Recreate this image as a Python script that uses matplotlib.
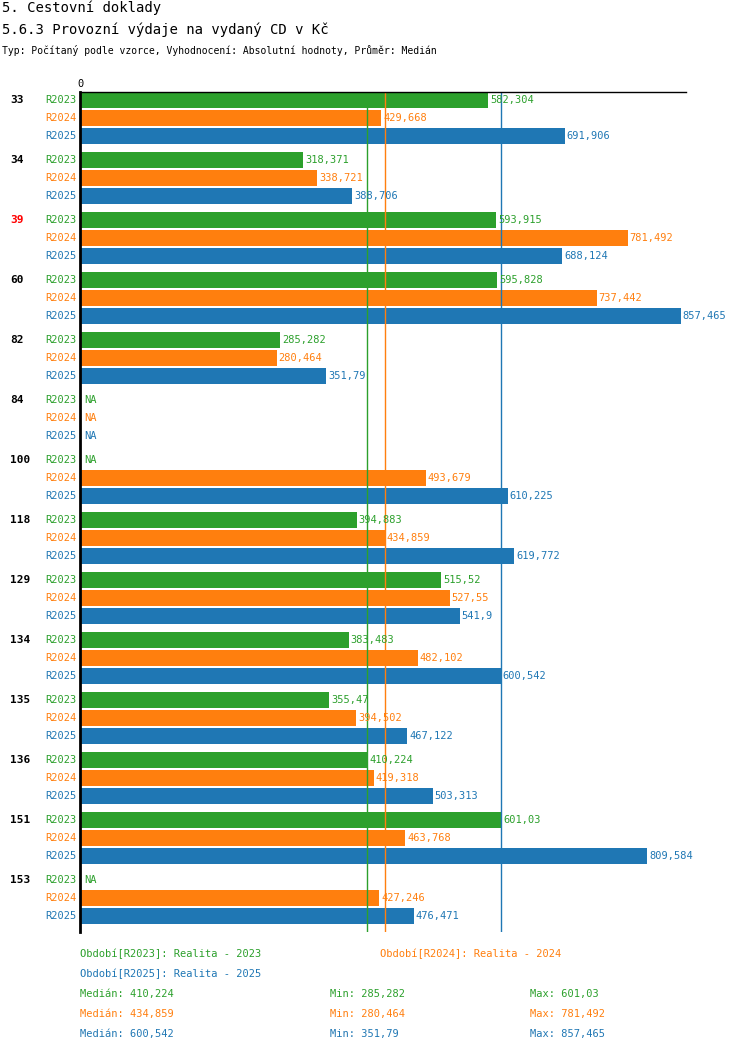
import matplotlib
matplotlib.use("Agg")
import matplotlib.pyplot as plt

plt.rcParams['font.family'] = ['DejaVu Sans Mono']

groups = ['33', '34', '39', '60', '82', '84', '100', '118', '129', '134', '135', '136', '151', '153']
series = ['R2023', 'R2024', 'R2025']
colors = ['#2ca02c', '#ff7f0e', '#1f77b4']
r2023 = [582.304, 318.371, 593.915, 595.828, 285.282, None, None, 394.883, 515.52, 383.483, 355.47, 410.224, 601.03, None]
r2024 = [429.668, 338.721, 781.492, 737.442, 280.464, None, 493.679, 434.859, 527.55, 482.102, 394.502, 419.318, 463.768, 427.246]
r2025 = [691.906, 388.706, 688.124, 857.465, 351.79, None, 610.225, 619.772, 541.9, 600.542, 467.122, 503.313, 809.584, 476.471]
medians = [410.224, 434.859, 600.542]
mins = [285.282, 280.464, 351.79]
maxs = [601.03, 781.492, 857.465]
highlight = '39'

def fmt(v):
    return str(v).replace('.', ',')

W, H = 750, 1052
fig = plt.figure(figsize=(7.5, 10.52), dpi=100)
ax = fig.add_axes([80 / W, 1 - 932 / H, 606 / W, 840 / H])
xmax = 606 / 0.7007
ax.set_xlim(0, xmax)
ax.set_ylim(840, 0)

data = [r2023, r2024, r2025]
for i, g in enumerate(groups):
    for j in range(3):
        y = i * 60 + j * 18 + 8
        v = data[j][i]
        ax.text(-3 / 0.7007, y, series[j], color=colors[j], ha='right', va='center', fontsize=7.5)
        if v is None:
            ax.text(4 / 0.7007, y, 'NA', color=colors[j], ha='left', va='center', fontsize=7.5)
        else:
            ax.barh(y, v, height=16, color=colors[j])
            ax.text(v + 2 / 0.7007, y, fmt(v), color=colors[j], ha='left', va='center', fontsize=7.5)
    ax.text(-70 / 0.7007, i * 60 + 8, g, color='red' if g == highlight else 'black',
            ha='left', va='center', fontsize=8, fontweight='bold')

for m, c in zip(medians, colors):
    ax.axvline(m, color=c, lw=1)

for s in ['right', 'bottom']:
    ax.spines[s].set_visible(False)
ax.spines['left'].set_linewidth(2)
ax.spines['top'].set_linewidth(1)
ax.set_xticks([0])
ax.set_xticklabels(['0'], fontsize=7.5)
ax.xaxis.tick_top()
ax.tick_params(axis='x', length=0, pad=2)
ax.set_yticks([])

fig.text(2 / W, 1 - 8 / H, '5. Cestovní doklady', fontsize=10, va='center')
fig.text(2 / W, 1 - 30 / H, '5.6.3 Provozní výdaje na vydaný CD v Kč', fontsize=10, va='center')
fig.text(2 / W, 1 - 50 / H, 'Typ: Počítaný podle vzorce, Vyhodnocení: Absolutní hodnoty, Průměr: Medián',
         fontsize=7, va='center')

fig.text(80 / W, 1 - 954 / H, 'Období[R2023]: Realita - 2023', color=colors[0], fontsize=7.5, va='center')
fig.text(380 / W, 1 - 954 / H, 'Období[R2024]: Realita - 2024', color=colors[1], fontsize=7.5, va='center')
fig.text(80 / W, 1 - 974 / H, 'Období[R2025]: Realita - 2025', color=colors[2], fontsize=7.5, va='center')
for j in range(3):
    y = 1 - (994 + j * 20) / H
    fig.text(80 / W, y, 'Medián: ' + fmt(medians[j]), color=colors[j], fontsize=7.5, va='center')
    fig.text(330 / W, y, 'Min: ' + fmt(mins[j]), color=colors[j], fontsize=7.5, va='center')
    fig.text(530 / W, y, 'Max: ' + fmt(maxs[j]), color=colors[j], fontsize=7.5, va='center')

fig.savefig('out.png', dpi=100)
